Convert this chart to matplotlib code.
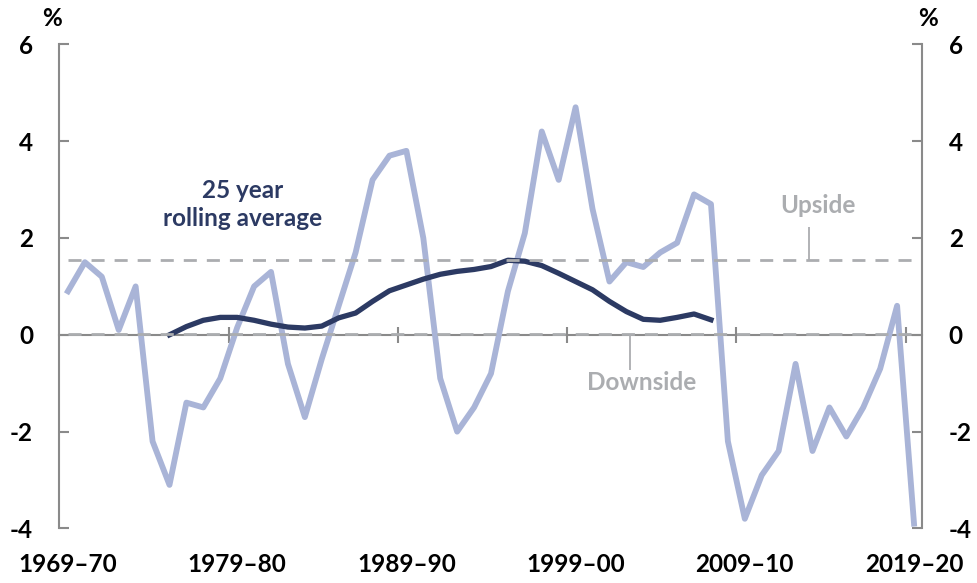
import numpy as np
import matplotlib
matplotlib.use('Agg')
import matplotlib.pyplot as plt
import matplotlib.transforms as mtransforms

plt.rcParams['font.family'] = ['Lato', 'DejaVu Sans']
plt.rcParams['font.weight'] = 'bold'
plt.rcParams['axes.unicode_minus'] = False

# colours
COLOR_ANNUAL = "#a9b4d7"    # light lavender, annual series
COLOR_ROLLING = "#2c3a63"   # dark navy, 25 year rolling average
COLOR_BAND = "#abadb0"      # dashed upside/downside lines and their labels
COLOR_AXIS = "#8a8a8a"
FS = 17.5

# data (financial years 1969-70 .. 2019-20)
years = [f"{y}–{str(y + 1)[-2:]}" for y in range(1969, 2020)]
annual = [0.9, 1.5, 1.2, 0.1, 1.0, -2.2, -3.1, -1.4, -1.5, -0.9,
          0.15, 1.0, 1.3, -0.6, -1.7, -0.5, 0.6, 1.7, 3.2, 3.7,
          3.8, 2.0, -0.9, -2.0, -1.5, -0.8, 0.9, 2.1, 4.2, 3.2,
          4.7, 2.6, 1.1, 1.5, 1.4, 1.7, 1.9, 2.9, 2.7, -2.2,
          -3.8, -2.9, -2.4, -0.6, -2.4, -1.5, -2.1, -1.5, -0.7, 0.6,
          -3.9]
rolling_start = "1975–76"
rolling = [0.0, 0.17, 0.3, 0.36, 0.36, 0.3, 0.22, 0.16, 0.14, 0.18,
           0.35, 0.45, 0.69, 0.91, 1.03, 1.15, 1.25, 1.31, 1.35, 1.41,
           1.54, 1.52, 1.43, 1.27, 1.1, 0.93, 0.69, 0.48, 0.32, 0.3,
           0.36, 0.43, 0.31]
upside = 1.55
downside = 0.02
label_years = ["1969–70", "1979–80", "1989–90", "1999–00", "2009–10", "2019–20"]
yticks = [-4, -2, 0, 2, 4, 6]

fig = plt.figure(figsize=(9.77, 5.83), dpi=100)
ax = fig.add_axes([0.0609, 0.0935, 0.8833, 0.8305])

x = np.arange(len(years))
i0 = years.index(rolling_start)
x_roll = np.arange(i0, i0 + len(rolling))

ax.plot(x, annual, color=COLOR_ANNUAL, linewidth=4.2, solid_joinstyle='round', zorder=3)
ax.plot(x_roll, rolling, color=COLOR_ROLLING, linewidth=3.8, solid_joinstyle='round', zorder=4)
for level in (upside, downside):
    ax.plot(x, [level] * len(x), color=COLOR_BAND, linewidth=2.0, dashes=(4.7, 3.6), zorder=5)

ax.set_xlim(-0.5, len(years) - 0.5)
ax.set_ylim(-4, 6)
ax.set_yticks(yticks)

# axes: gray verticals both sides, x axis sitting on zero
ax.spines['top'].set_visible(False)
ax.spines['bottom'].set_position(('data', 0))
for side in ('left', 'right', 'bottom'):
    ax.spines[side].set_color(COLOR_AXIS)
    ax.spines[side].set_linewidth(1.5)
ax.spines['bottom'].set_zorder(2)

# ticks between categories, every ten years
ax.set_xticks([years.index(lab) - 0.5 for lab in label_years[1:]])
ax.tick_params(axis='x', direction='inout', length=11, width=1.5, color=COLOR_AXIS,
               labelbottom=False)
ax.tick_params(axis='y', direction='in', length=7, width=1.5, color=COLOR_AXIS,
               left=True, right=True, labelleft=True, labelright=True,
               labelsize=FS, labelcolor='black', pad=19)

# category labels at the bottom of the figure
trans = mtransforms.blended_transform_factory(ax.transData, fig.transFigure)
for lab in label_years:
    ax.text(years.index(lab), 0.031, lab, transform=trans, ha='center', va='center',
            fontsize=FS, fontweight='bold', color='black')

fig.text(52 / 977, 1 - 18 / 583, '%', ha='center', va='center', fontsize=FS, fontweight='bold')
fig.text(928 / 977, 1 - 18 / 583, '%', ha='center', va='center', fontsize=FS, fontweight='bold')

# inline labels
ax.text(10.3, 2.69, '25 year\nrolling average', color=COLOR_ROLLING, ha='center', va='center',
        fontsize=FS, fontweight='bold', linespacing=1.3)
ax.text(44.3, 2.68, 'Upside', color=COLOR_BAND, ha='center', va='center',
        fontsize=FS, fontweight='bold')
ax.vlines(43.8, upside, 2.23, color=COLOR_BAND, linewidth=1.3, zorder=5)
ax.text(33.9, -0.99, 'Downside', color=COLOR_BAND, ha='center', va='center',
        fontsize=FS, fontweight='bold')
ax.vlines(33.2, -0.72, downside, color=COLOR_BAND, linewidth=1.3, zorder=5)

fig.savefig('out.png', dpi=100)
